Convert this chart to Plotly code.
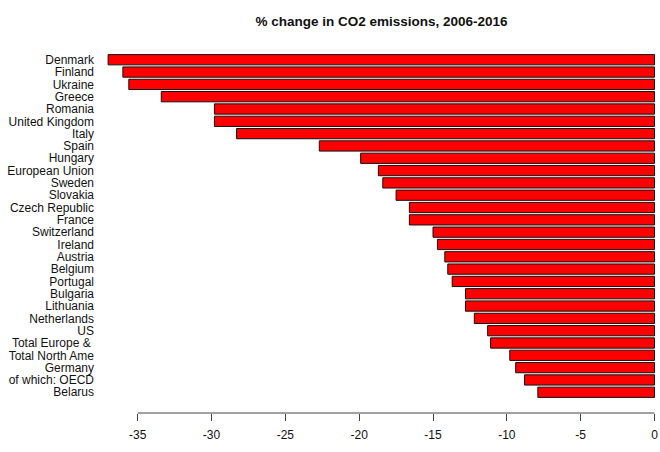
import plotly.graph_objects as go

countries = [
    "Denmark", "Finland", "Ukraine", "Greece", "Romania", "United Kingdom",
    "Italy", "Spain", "Hungary", "European Union", "Sweden", "Slovakia",
    "Czech Republic", "France", "Switzerland", "Ireland", "Austria",
    "Belgium", "Portugal", "Bulgaria", "Lithuania", "Netherlands", "US",
    "Total Europe &\u00a0", "Total North Ame", "Germany", "of which: OECD",
    "Belarus",
]
values = [
    -37.0, -36.0, -35.6, -33.4, -29.8, -29.8,
    -28.3, -22.7, -19.9, -18.7, -18.4, -17.5,
    -16.6, -16.6, -15.0, -14.7, -14.2,
    -14.0, -13.7, -12.8, -12.8, -12.2, -11.3,
    -11.1, -9.8, -9.4, -8.8,
    -7.9,
]
tick_vals = [-35, -30, -25, -20, -15, -10, -5, 0]
tick_text = [str(v) for v in tick_vals]
title_text = "% change in CO2 emissions, 2006-2016"

font_family = "Liberation Sans, Arial, sans-serif"

fig = go.Figure(
    go.Bar(
        x=values,
        y=countries,
        orientation="h",
        width=0.833,
        marker=dict(color="#FF0000", line=dict(color="#111111", width=1)),
    )
)

n = len(countries)
pad = 1.684
fig.update_layout(
    width=660,
    height=452,
    margin=dict(l=100, r=2, t=39, b=39, autoexpand=False),
    paper_bgcolor="white",
    plot_bgcolor="white",
    showlegend=False,
    font=dict(family=font_family, size=12, color="#111111"),
    title=dict(
        text="<b>" + title_text + "</b>",
        font=dict(family=font_family, size=13.5, color="#111111"),
        x=0.578, xref="container", xanchor="center",
        y=1 - 21 / 452, yref="container", yanchor="middle",
        automargin=False,
    ),
    xaxis=dict(
        range=[-37.55, 0.237],
        tickmode="array",
        tickvals=tick_vals,
        ticktext=tick_text,
        ticks="outside",
        ticklen=7,
        tickcolor="#444444",
        tickwidth=1,
        ticklabelstandoff=4,
        showgrid=False,
        zeroline=False,
        showline=False,
        automargin=False,
        tickfont=dict(size=12, color="#111111"),
    ),
    yaxis=dict(
        type="category",
        categoryorder="array",
        categoryarray=countries,
        tickmode="array",
        tickvals=countries,
        ticktext=countries,
        range=[n - 1 + pad, -pad],
        showgrid=False,
        zeroline=False,
        showline=False,
        ticks="",
        ticklabelstandoff=5,
        automargin=False,
        tickfont=dict(size=12, color="#111111"),
    ),
    shapes=[
        dict(
            type="line", xref="x", yref="paper",
            x0=min(tick_vals), x1=max(tick_vals), y0=0, y1=0,
            line=dict(color="#444444", width=1),
        )
    ],
)

fig.write_html(
    "out.html",
    config={"displayModeBar": False},
    post_script="document.body.style.margin='0';document.body.style.overflow='hidden';",
)
